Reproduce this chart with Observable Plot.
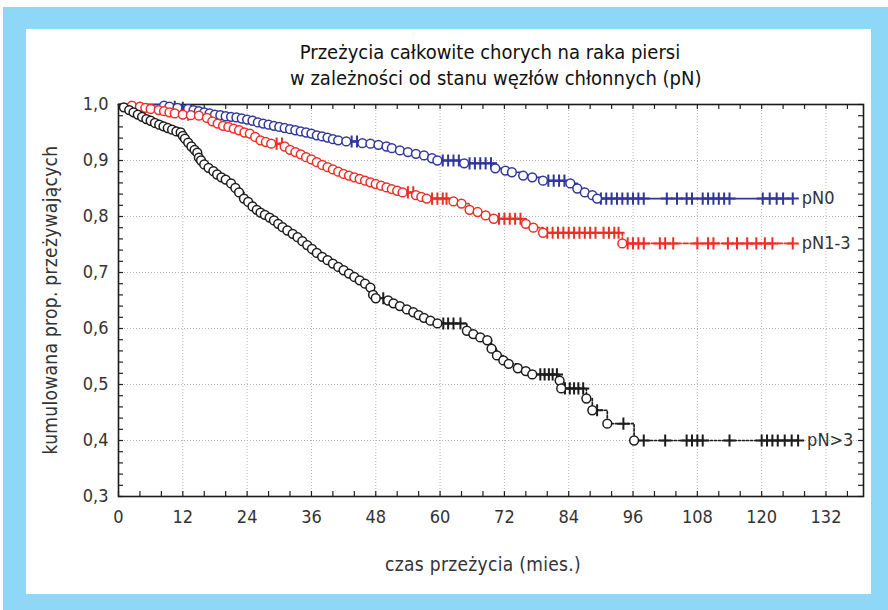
<!DOCTYPE html>
<html>
<head>
<meta charset="utf-8">
<script src="https://cdn.jsdelivr.net/npm/d3@7"></script>
<script src="https://cdn.jsdelivr.net/npm/@observablehq/plot@0.6"></script>
<style>
  body { margin: 0; background: #fff; }
  #wrap { position: relative; width: 888px; height: 610px; overflow: hidden; font-family: "Liberation Sans Narrow", "DejaVu Sans Condensed", "Liberation Sans", sans-serif; }
  #blue { position: absolute; left: 3px; top: 7px; width: 885px; height: 603px; background: #8fd7f6; }
  #inner { position: absolute; left: 26px; top: 29px; width: 845px; height: 565px; background: #fff; }
  #chart { position: absolute; left: 0; top: 0; }
  .title { position: absolute; left: 290px; width: 400px; text-align: center; font-size: 20px; color: #111; white-space: nowrap; }
  .xlab { position: absolute; left: 283px; width: 400px; top: 553px; text-align: center; font-size: 19px; color: #333; letter-spacing: 0.3px; }
  .ylab { position: absolute; left: 50px; top: 300px; transform: translate(-50%, -50%) rotate(-90deg); font-size: 19px; color: #333; white-space: nowrap; letter-spacing: 0.3px; }
</style>
</head>
<body>
<div id="wrap">
  <div id="blue"></div>
  <div id="inner"></div>
  <div id="chart"></div>
  <div class="title" style="top:40px">Przeżycia całkowite chorych na raka piersi</div>
  <div class="title" style="top:66px">w zależności od stanu węzłów chłonnych (pN)</div>
  <div class="xlab">czas przeżycia (mies.)</div>
  <div class="ylab">kumulowana prop. przeżywających</div>
</div>
<script>
// ---------- data ----------
const seriesNames = ["pN0", "pN1-3", "pN>3"];
const seriesColors = ["#30379a", "#ee2d27", "#1c1c1c"];

const pN0EventTimes = [8.5, 9.5, 11, 13, 14, 15, 16, 17, 18, 19, 20, 21, 22, 23, 24, 25, 26, 27, 28, 29, 30, 31, 32, 33, 34, 35, 36, 37, 38, 39, 40, 41, 42.5, 45.5, 47, 48.5, 50, 51, 52.5, 54, 55.5, 57, 58.5, 59.5, 64.5, 70.3, 72.2, 73.4, 75.5, 77.2, 79.2, 84.3, 85.6, 87, 88.4, 89.3];
const pN0Survival = [0.998, 0.996, 0.994, 0.992, 0.990, 0.988, 0.986, 0.984, 0.982, 0.981, 0.979, 0.978, 0.977, 0.975, 0.973, 0.971, 0.968, 0.966, 0.964, 0.962, 0.960, 0.958, 0.956, 0.954, 0.952, 0.950, 0.948, 0.945, 0.943, 0.941, 0.938, 0.936, 0.934, 0.931, 0.930, 0.928, 0.925, 0.922, 0.918, 0.915, 0.912, 0.909, 0.904, 0.900, 0.895, 0.886, 0.882, 0.879, 0.873, 0.870, 0.864, 0.859, 0.850, 0.843, 0.838, 0.832];
const pN0Censored = [10.5, 12, 43.5, 44.5, 60.5, 61.5, 62.5, 63.5, 65.5, 66.5, 67.5, 68.5, 69.5, 80.2, 81.2, 82.2, 83.2, 90, 91, 92, 93, 94, 95, 96, 97, 98, 102.3, 104.2, 106, 107, 109, 110, 111, 112, 113, 114, 120.2, 121.5, 122.8, 124, 125.8];

const pN13EventTimes = [2.5, 4, 5, 6, 7.5, 8.5, 9.5, 10.5, 12, 13.5, 15, 16.5, 17.5, 18.5, 19.5, 20.5, 21.5, 22.5, 23.5, 24.5, 25.5, 26.5, 27.5, 28.5, 31, 32, 33, 34, 35, 36, 37, 38, 39, 40, 41, 42, 43, 44, 45, 46, 47, 48, 49, 50, 51, 52, 53, 55.5, 56.5, 57.5, 62.5, 64, 65.5, 67, 68.5, 70, 76, 77.4, 79.2, 94];
const pN13Survival = [0.998, 0.996, 0.994, 0.992, 0.990, 0.988, 0.986, 0.984, 0.982, 0.981, 0.980, 0.976, 0.970, 0.966, 0.962, 0.960, 0.957, 0.954, 0.950, 0.948, 0.942, 0.936, 0.933, 0.930, 0.925, 0.919, 0.915, 0.911, 0.906, 0.902, 0.897, 0.892, 0.888, 0.884, 0.880, 0.876, 0.873, 0.870, 0.867, 0.864, 0.861, 0.858, 0.855, 0.852, 0.849, 0.846, 0.843, 0.838, 0.835, 0.832, 0.827, 0.823, 0.812, 0.808, 0.802, 0.796, 0.787, 0.780, 0.771, 0.752];
const pN13Censored = [13, 29.5, 30.5, 54, 55, 58.5, 59.5, 60.5, 61.2, 71, 72, 73, 74, 75, 80, 81, 82, 83, 84, 85, 86, 87, 88, 89, 90.5, 91.5, 92.5, 93.3, 95, 96, 97, 98, 101, 102, 103.5, 108, 110, 111, 113.7, 115.4, 117.3, 119, 120.6, 122, 125.8];

const pN3EventTimes = [1.0, 2.0, 2.8, 3.6, 4.4, 5.2, 6.0, 6.8, 7.6, 8.4, 9.2, 10.0, 10.8, 11.6, 12.0, 12.4, 13.0, 13.6, 14.2, 14.7, 15.0, 15.4, 16.0, 16.8, 17.7, 18.4, 19.2, 20.0, 21.0, 21.8, 22.5, 23.4, 24.2, 25.0, 25.8, 26.5, 27.3, 28.2, 29.0, 29.8, 30.6, 31.5, 32.5, 33.4, 34.3, 35.2, 36.1, 37.0, 38.0, 39.0, 40.0, 41.0, 42.0, 43.0, 44.0, 45.0, 46.0, 47.0, 47.5, 48.0, 50.3, 51.3, 52.5, 53.8, 55.0, 56.0, 57.0, 58.2, 59.5, 65.0, 66.2, 67.5, 68.8, 69.6, 70.6, 71.8, 72.8, 74.5, 76.0, 77.2, 82.3, 82.6, 87.3, 88.4, 91.2, 96.2];
const pN3Survival = [0.995, 0.990, 0.986, 0.982, 0.978, 0.974, 0.971, 0.967, 0.964, 0.961, 0.958, 0.955, 0.952, 0.950, 0.944, 0.939, 0.932, 0.925, 0.919, 0.914, 0.905, 0.900, 0.893, 0.887, 0.881, 0.875, 0.870, 0.866, 0.859, 0.851, 0.843, 0.832, 0.826, 0.818, 0.812, 0.807, 0.803, 0.798, 0.793, 0.787, 0.781, 0.775, 0.769, 0.763, 0.756, 0.749, 0.742, 0.735, 0.728, 0.722, 0.716, 0.710, 0.704, 0.698, 0.692, 0.686, 0.680, 0.673, 0.660, 0.654, 0.650, 0.645, 0.640, 0.634, 0.629, 0.624, 0.619, 0.614, 0.609, 0.596, 0.590, 0.584, 0.579, 0.564, 0.552, 0.543, 0.537, 0.529, 0.524, 0.518, 0.507, 0.493, 0.475, 0.454, 0.430, 0.400];
const pN3Censored = [49.4, 60.6, 61.5, 62.5, 63.8, 78.7, 79.5, 80.3, 81.0, 81.8, 83.3, 84.2, 85.0, 85.8, 86.7, 89.3, 94.2, 98, 102, 106, 107, 108, 109, 114, 120, 121, 122, 123, 124.3, 125.6, 126.8];

const xTickValues = [0, 12, 24, 36, 48, 60, 72, 84, 96, 108, 120, 132];
const yTickValues = [0.3, 0.4, 0.5, 0.6, 0.7, 0.8, 0.9, 1.0];
const xMinorTicks = d3.range(0, 139, 4);
const yMinorTicks = d3.range(0.3, 1.0001, 0.02);

// ---------- build tables ----------
const raw = [
  [pN0EventTimes, pN0Survival, pN0Censored],
  [pN13EventTimes, pN13Survival, pN13Censored],
  [pN3EventTimes, pN3Survival, pN3Censored]
];
const lines = [], events = [], censors = [], labels = [];
raw.forEach(([times, surv, cens], i) => {
  const name = seriesNames[i];
  const stepAt = t => { let s = 1; times.forEach((tt, k) => { if (tt <= t) s = surv[k]; }); return s; };
  const last = Math.max(times[times.length - 1], cens[cens.length - 1]);
  lines.push({series: name, t: 0, s: 1});
  times.forEach((t, k) => {
    lines.push({series: name, t, s: surv[k]});
    events.push({series: name, t, s: surv[k]});
  });
  lines.push({series: name, t: last, s: stepAt(last)});
  cens.forEach(t => censors.push({series: name, t, s: stepAt(t)}));
  labels.push({series: name, t: last, s: stepAt(last)});
});

const W = 888, H = 610, mT = 104, mB = 114, mL = 118, mR = 25;
const innerH = H - mT - mB, innerW = W - mL - mR;
const dash = {"pN0": null, "pN1-3": "5,2,1.5,2", "pN>3": "2,2"};

const chart = Plot.plot({
  width: W, height: H,
  marginTop: mT, marginBottom: mB, marginLeft: mL, marginRight: mR,
  style: {background: "transparent", overflow: "visible", fontFamily: "'Liberation Sans Narrow', 'DejaVu Sans Condensed', sans-serif"},
  x: {domain: [0, 139], axis: null},
  y: {domain: [0.3, 1.0], axis: null},
  marks: [
    Plot.ruleX(xTickValues.filter(d => d > 0), {x: d => d, stroke: "#b4b4b4", strokeDasharray: "1,2", strokeWidth: 1}),
    Plot.ruleY(yTickValues.filter(d => d > 0.3 && d < 1), {y: d => d, stroke: "#b4b4b4", strokeDasharray: "1,2", strokeWidth: 1}),
    Plot.tickX(xMinorTicks, {x: d => d, insetTop: innerH - 5, stroke: "#222", strokeWidth: 1.2}),
    Plot.tickX(xMinorTicks, {x: d => d, insetBottom: innerH - 5, stroke: "#222", strokeWidth: 1.2}),
    Plot.tickY(yMinorTicks, {y: d => d, insetRight: innerW - 5, stroke: "#222", strokeWidth: 1.2}),
    Plot.tickY(yMinorTicks, {y: d => d, insetLeft: innerW - 5, stroke: "#222", strokeWidth: 1.2}),
    Plot.frame({stroke: "#1a1a1a", strokeWidth: 1.6}),
    ...seriesNames.map((n, i) => Plot.line(lines.filter(d => d.series === n), {x: "t", y: "s", curve: "step-after", stroke: seriesColors[i], strokeWidth: 1.7, strokeDasharray: dash[n]})),
    ...seriesNames.map((n, i) => Plot.dot(censors.filter(d => d.series === n), {x: "t", y: "s", symbol: "plus", r: 4, stroke: seriesColors[i], strokeWidth: 2})),
    ...seriesNames.map((n, i) => Plot.dot(events.filter(d => d.series === n), {x: "t", y: "s", r: 4.4, stroke: seriesColors[i], fill: "white", strokeWidth: 1.5})),
    Plot.text(labels, {x: "t", y: "s", text: "series", dx: 9, textAnchor: "start", fontSize: 18, fill: "#333"}),
    Plot.text(xTickValues, {x: d => d, frameAnchor: "bottom", dy: 26, text: d => String(d), fontSize: 18, fill: "#333"}),
    Plot.text(yTickValues, {y: d => d, frameAnchor: "left", dx: -10, textAnchor: "end", text: d => d.toFixed(1).replace(".", ","), fontSize: 18, fill: "#333"})
  ]
});
document.getElementById("chart").appendChild(chart);
</script>
</body>
</html>
